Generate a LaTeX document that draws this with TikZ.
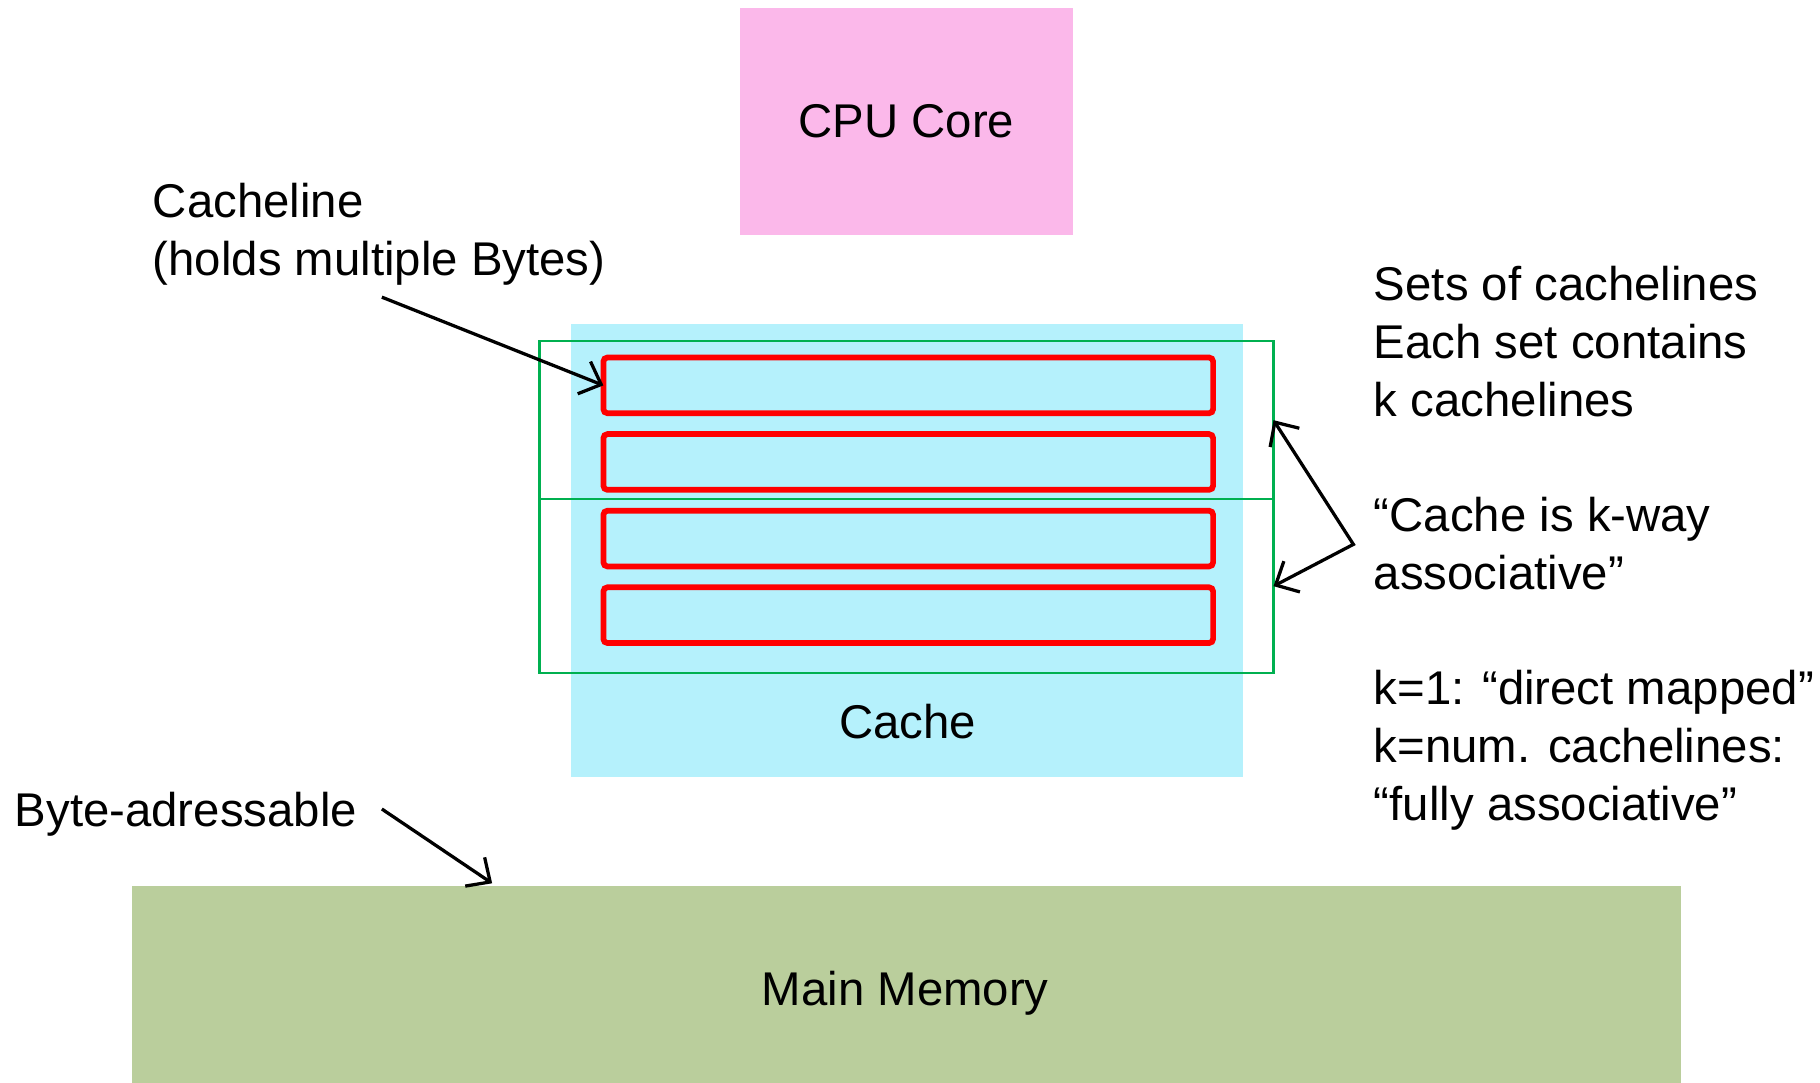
\documentclass[tikz,border=0pt]{standalone}
\usepackage{fontspec}
\setmainfont{Liberation Sans}
\usetikzlibrary{arrows.meta}
\definecolor{cpupink}{HTML}{FBB8EA}
\definecolor{cachecyan}{HTML}{B5F1FC}
\definecolor{memgreen}{HTML}{BACE9C}
\definecolor{setgreen}{HTML}{00B050}
\tikzset{
  block/.style={inner sep=0pt, outer sep=0pt},
  cline/.style={draw=red, line width=1.4pt, rounded corners=1pt, minimum width=5.25cm, minimum height=0.48cm, inner sep=0pt, outer sep=0pt},
  setbox/.style={draw=setgreen, line width=0.6pt, minimum width=6.32cm, inner sep=0pt, outer sep=0pt},
  note/.style={inner sep=0pt, align=left, font=\fontsize{11.6}{14.2}\selectfont},
  pointer/.style={>={Straight Barb[length=4.5pt,width=8.5pt]}, line width=0.8pt},
}
\begin{document}
\begin{tikzpicture}[x=0.01cm, y=-0.01cm]
  \useasboundingbox (0,0) rectangle (1568,933);
  % blocks
  \node[block, fill=cpupink, minimum width=2.86cm, minimum height=1.95cm, font=\fontsize{11.6}{14.2}\selectfont] (cpu) at (781,104.5) {CPU Core};
  \node[block, fill=cachecyan, minimum width=5.79cm, minimum height=3.90cm] (cache) at (781.5,474) {};
  \node[note, anchor=base] (cachelbl) at (782,636) {Cache};
  \node[block, fill=memgreen, minimum width=13.34cm, minimum height=1.70cm] (mem) at (781,848) {};
  \node[note, anchor=base] (memlbl) at (780,866) {Main Memory};
  % sets and cachelines
  \node[setbox, minimum height=1.36cm] (set1) at (781,362) {};
  \node[setbox, minimum height=1.50cm] (set2) at (781,505) {};
  \foreach \y [count=\i] in {332,398,464,530}
    \node[cline] (line\i) at (782.5,\y) {};
  % notes
  \node[note, anchor=north west] (clnote) at (131,157) {Cacheline\\(holds multiple Bytes)};
  \node[note, anchor=base west] (bytenote) at (12,712) {Byte-adressable};
  \node[note, anchor=north west] (setsnote) at (1183,229) {Sets of cachelines\\Each set contains\\k cachelines};
  \node[note, anchor=north west] (waynote) at (1183,428) {“Cache is k-way\\associative”};
  \node[note, anchor=north west] (mapnote) at (1183,577) {k=1: “direct mapped”\\k=num. cachelines:\\“fully associative”};
  % pointers
  \coordinate (clfrom) at (329,256);
  \coordinate (bytefrom) at (329,697);
  \coordinate (byteto) at (424,761);
  \coordinate (fork) at (1166,469);
  \draw[pointer, ->] (clfrom) -- (line1.west);
  \draw[pointer, ->] (bytefrom) -- (byteto);
  \draw[pointer, <->] (set1.east) -- (fork) -- (set2.east);
\end{tikzpicture}
\end{document}
